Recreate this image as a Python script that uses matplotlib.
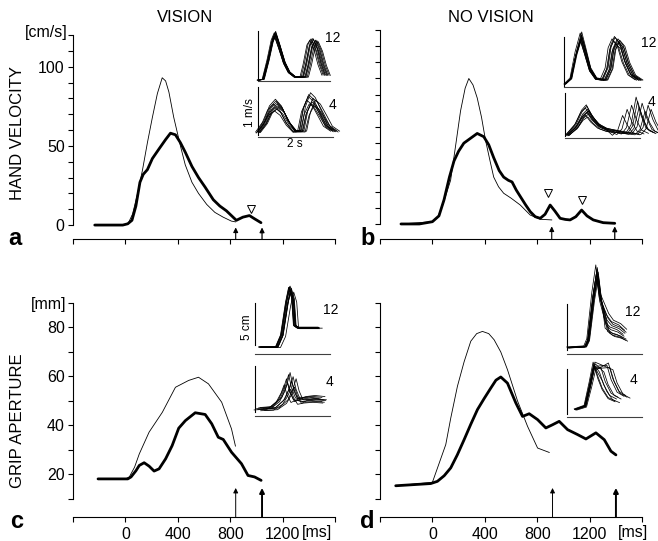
import numpy as np
import matplotlib
matplotlib.use('Agg')
import matplotlib.pyplot as plt

plt.rcParams['font.family'] = ['Liberation Sans', 'DejaVu Sans']

# ---- main traces: time [ms], value ----
a_thick_t = [-234, -20, 18, 50, 80, 111, 136, 168, 206, 256, 307, 344, 382, 420, 457, 508, 558, 608,
             671, 721, 771, 809, 847, 897, 947, 985, 1035]
a_thick_v = [0, 0, 0.8, 3, 12, 27, 32, 35, 42, 48, 54, 58, 57, 52, 46, 37, 30, 24,
             16, 12, 9, 6, 3, 5, 6, 4, 1.5]
a_thin_t = [-234, -20, 18, 55, 93, 131, 168, 206, 244, 281, 307, 332, 369, 420, 457, 508, 558, 621,
            683, 746, 809, 842]
a_thin_v = [0, 0, 0.5, 7, 20, 35, 52, 68, 83, 93, 91, 84, 68, 50, 38, 27, 20, 13,
            8, 5, 2.5, 2]
a_marks_t = [960]
a_marks_v = [10]
a_arrows = [842, 1043]

b_thick_t = [-240, -100, 0, 50, 89, 130, 165, 200, 240, 291, 342, 392, 430, 468, 510, 544, 580, 608,
             640, 671, 710, 747, 785, 823, 860, 899, 935, 975, 1015, 1051, 1095, 1139, 1180, 1228,
             1304, 1392]
b_thick_v = [0, 0, 1.4, 5, 15, 29, 39, 45, 50, 53, 56, 54, 49, 41, 33, 29, 27, 26,
             21, 17, 12, 7.6, 4.5, 3.5, 6, 11.7, 8, 3.5, 2.8, 2.5, 4.5, 8.6, 5, 2.5,
             0.8, 0.4]
b_thin_t = [-240, 0, 40, 80, 139, 180, 215, 250, 278, 310, 342, 375, 405, 440, 468, 505, 544, 600,
            671, 747, 823, 911]
b_thin_v = [0, 1.4, 4, 12, 27, 50, 70, 84, 90, 86, 78, 66, 52, 39, 29, 23, 19, 16,
            11.7, 5.5, 2.9, 2.5]
b_marks_t = [886, 1139]
b_marks_v = [19, 15]
b_arrows = [911, 1392]

c_thick_t = [-209, 0, 18, 43, 80, 106, 143, 181, 219, 257, 307, 357, 407, 458, 533, 609, 659, 709,
             747, 810, 886, 936, 986, 1036]
c_thick_v = [18.2, 18.2, 18.2, 19, 21.5, 23.7, 24.8, 23.4, 21.4, 22.3, 26.4, 31.8, 38.9, 42, 45.2,
             44.5, 40.7, 35.2, 34.3, 29.1, 24.4, 19.6, 19, 17.6]
c_thin_t = [-209, 0, 30, 70, 106, 181, 282, 382, 483, 558, 634, 735, 810, 840]
c_thin_v = [18.2, 18.2, 19, 23, 28.4, 37.3, 45.4, 55.6, 58.4, 59.7, 57, 49.5, 38.6, 31.6]
c_arrows = [842, 1043]

d_thick_t = [-280, -13, 38, 90, 140, 190, 242, 293, 344, 395, 446, 485, 522, 573, 637, 688, 739, 803,
             866, 917, 968, 1032, 1108, 1172, 1248, 1312, 1363, 1401]
d_thick_v = [15.4, 16.3, 17.2, 19.5, 22.7, 28, 34.2, 40.5, 46.5, 51, 55.3, 58.5, 59.8, 57.3, 49.2,
             43.7, 44.8, 42.4, 39, 40.3, 41.7, 38.3, 36.3, 34.5, 37, 34.2, 29.5, 28]
d_thin_t = [-280, 0, 102, 140, 191, 242, 293, 338, 382, 430, 471, 522, 573, 650, 726, 803, 892]
d_thin_v = [15.4, 16.8, 32.2, 43, 56, 66, 74.4, 77.5, 78.4, 77.5, 75, 70, 62.8, 50, 39.7, 30.8, 29]
d_arrows = [917, 1401]

# ---- inset traces: time [s], velocity [m/s] or aperture [cm] ----
ia_top_t = [0, 0.17, 0.33, 0.47, 0.57, 0.70, 0.87, 1.03, 1.23, 1.4, 1.5, 1.63, 1.73, 1.87, 2.0, 2.13]
ia_top_v = [0.02, 0.04, 0.47, 0.91, 1.07, 0.80, 0.42, 0.2, 0.09, 0.09, 0.36, 0.8, 0.91, 0.69, 0.36, 0.13]
ia_top_sh1 = [-0.03, 0.0, 0.02, -0.02, 0.03, 0.01, -0.01, 0.04, 0.0, 0.02]
ia_top_g1 = [1.0, 0.96, 1.03, 0.93, 0.98, 1.02, 0.91, 0.97, 1.0, 0.95]
ia_top_sh2 = [0.0, 0.04, 0.08, 0.12, 0.16, 0.2, 0.24, 0.28, 0.1, 0.18]
ia_top_g2 = [1.0, 1.03, 0.97, 1.02, 0.95, 1.0, 0.98, 0.96, 1.04, 0.99]

ia_bot_t = [0, 0.23, 0.4, 0.6, 0.8, 1.0, 1.23, 1.37, 1.5, 1.67, 1.83, 2.03, 2.23, 2.47]
ia_bot_v = [0.11, 0.33, 0.6, 0.73, 0.6, 0.33, 0.13, 0.13, 0.56, 0.82, 0.73, 0.49, 0.24, 0.13]
ia_bot_sh1 = [-0.08, -0.04, 0, 0.03, 0.06, -0.02, 0.08, 0.02, -0.06, 0.04]
ia_bot_g1 = [1.0, 0.9, 1.1, 0.85, 0.95, 1.15, 0.9, 1.05, 0.8, 1.0]
ia_bot_sh2 = [-0.05, 0, 0.04, 0.08, 0.12, 0.16, 0.2, 0.02, 0.1, 0.25]
ia_bot_g2 = [1.0, 1.1, 0.9, 1.2, 0.95, 1.05, 0.85, 1.15, 0.9, 1.0]

ib_top_t = [0.03, 0.23, 0.4, 0.57, 0.7, 0.87, 1.07, 1.3, 1.47, 1.57, 1.7, 1.87, 2.03, 2.23, 2.47]
ib_top_v = [0.07, 0.2, 0.78, 1.2, 0.87, 0.42, 0.2, 0.16, 0.42, 0.87, 1.07, 0.93, 0.56, 0.27, 0.16]
ib_top_sh1 = [-0.03, 0.0, 0.02, -0.02, 0.03, 0.01, -0.01, 0.02, 0.0, -0.02]
ib_top_g1 = [1.0, 0.9, 0.95, 0.85, 0.92, 0.97, 0.88, 1.02, 0.9, 0.86]
ib_top_sh2 = [-0.1, -0.05, 0, 0.03, 0.06, 0.1, 0.13, 0.16, -0.02, 0.08]
ib_top_g2 = [1.0, 0.95, 1.03, 0.9, 0.98, 1.0, 0.93, 0.97, 1.05, 0.92]

ib_bot_t = [0.07, 0.37, 0.57, 0.73, 0.9, 1.13, 1.4, 2.03, 2.2, 2.37, 2.53, 2.7, 2.93]
ib_bot_v = [0.07, 0.29, 0.56, 0.67, 0.47, 0.29, 0.2, 0.11, 0.29, 0.91, 0.51, 0.22, 0.13]
ib_bot_sh1 = [-0.05, 0.0, 0.04, -0.02, 0.06, 0.02, -0.04, 0.08, 0.0, 0.03]
ib_bot_g1 = [1.0, 0.85, 0.9, 1.1, 0.8, 0.95, 0.75, 0.9, 1.05, 0.7]
ib_bot_sh2 = [-0.45, -0.3, -0.15, 0.0, 0.1, 0.2, 0.3, 0.4, 0.5, 0.05]
ib_bot_g2 = [0.55, 0.7, 0.8, 1.0, 0.75, 0.85, 0.65, 0.8, 0.7, 0.9]

ic_top_t = [0.17, 0.73, 0.9, 1.07, 1.17, 1.27, 1.33, 1.43, 1.73, 2.1]
ic_top_v = [0.78, 0.78, 2.1, 5.8, 7.4, 6.2, 3.2, 2.9, 2.9, 2.9]
ic_top_sh1 = [-0.05, -0.03, 0, 0.02, 0.04, -0.02, 0.01, 0.12, 0.03, -0.04]
ic_top_g1 = [1, 0.97, 1.02, 0.95, 0.99, 1.01, 0.96, 0.93, 0.98, 1.0]
ic_top_sh2 = [-0.03, 0, 0.02, 0.03, 0.05, 0, 0.02, 0.14, 0.04, 0]
ic_top_g2 = [1, 0.98, 1.02, 1.0, 0.97, 1.03, 1.0, 0.99, 1.01, 0.98]

ic_bot_t = [0.17, 0.6, 0.9, 1.07, 1.17, 1.27, 1.4, 1.6, 1.9, 2.23]
ic_bot_v = [0.9, 1.0, 2.0, 3.4, 4.6, 3.1, 2.0, 1.8, 1.9, 1.8]
ic_bot_sh1 = [-0.2, -0.12, -0.05, 0.0, 0.05, 0.1, 0.15, -0.08, 0.02, 0.2]
ic_bot_g1 = [0.75, 0.9, 1.0, 1.05, 0.85, 0.95, 0.7, 0.8, 0.65, 0.9]
ic_bot_sh2 = [-0.1, 0, 0.05, 0, 0.08, 0.1, 0.12, -0.05, 0.03, 0.15]
ic_bot_g2 = [1.1, 0.9, 1.0, 1.15, 0.85, 1.2, 0.95, 1.05, 0.8, 1.0]

id_top_t = [0.03, 0.6, 0.7, 0.87, 1.0, 1.1, 1.27, 1.43, 1.67, 1.87]
id_top_v = [0.78, 0.9, 1.7, 6.9, 9.9, 6.9, 3.6, 3.0, 2.7, 2.2]
id_top_sh1 = [-0.04, -0.02, 0, 0.02, 0.04, 0.01, -0.01, 0.03, 0.0, 0.05]
id_top_g1 = [1.0, 0.9, 0.95, 0.88, 0.92, 0.97, 0.85, 0.9, 0.93, 0.87]
id_top_sh2 = [0, 0.05, 0.08, 0.1, 0.0, 0.12, 0.03, 0.1, 0.06, 0.15]
id_top_g2 = [1.0, 1.2, 0.7, 1.1, 0.8, 1.25, 0.9, 0.75, 1.05, 0.65]

id_bot_t = [0.27, 0.6, 0.77, 0.9, 1.03, 1.17, 1.37, 1.6]
id_bot_v = [0.9, 1.3, 3.9, 6.1, 5.0, 3.6, 2.4, 2.0]
id_bot_sh1 = [-0.03, 0, 0.02, 0.04, -0.02, 0.01, 0.03, 0, 0.05, -0.01]
id_bot_g1 = [1.0, 0.95, 0.9, 0.97, 0.92, 0.88, 1.0, 0.93, 0.85, 0.96]
id_bot_sh2 = [0, 0.05, 0.1, 0.2, 0.3, 0.4, 0.5, 0.15, 0.35, 0.0]
id_bot_g2 = [0.9, 1.0, 1.1, 1.0, 1.15, 1.1, 1.05, 0.8, 1.2, 0.85]

W, H = 658, 541
fig = plt.figure(figsize=(W / 100, H / 100), dpi=100)


def box(left, top, right, bottom):
	return [left / W, 1 - bottom / H, (right - left) / W, (bottom - top) / H]


def ftext(x, y, s, **kw):
	fig.text(x / W, 1 - y / H, s, **kw)


def panel(rect, ylim, ybounds, yticks, ylabels, xlabels):
	ax = fig.add_axes(rect)
	ax.patch.set_visible(False)
	ax.set_xlim(-400, 1600)
	ax.set_ylim(*ylim)
	for s in ['top', 'right']:
		ax.spines[s].set_visible(False)
	ax.spines['left'].set_bounds(*ybounds)
	ax.spines['bottom'].set_bounds(-400, 1600)
	for s in ['left', 'bottom']:
		ax.spines[s].set_linewidth(0.8)
	ax.set_yticks(yticks)
	ax.set_yticklabels([str(v) if v in ylabels else '' for v in yticks])
	xt = list(range(-400, 1601, 400))
	ax.set_xticks(xt)
	ax.set_xticklabels([str(v) if v in xlabels else '' for v in xt])
	ax.tick_params(direction='out', length=3.5, width=0.8, labelsize=11.5, pad=2.5)
	ax.tick_params(axis='x', pad=4)
	return ax


def curves(ax, tk, vk, tn, vn):
	ax.plot(tn, vn, color='k', lw=0.6, solid_joinstyle='round')
	ax.plot(tk, vk, color='k', lw=2.0, solid_joinstyle='round', solid_capstyle='round')


def arrows(ax, ts, base, tip, widths):
	for t, w in zip(ts, widths):
		ax.annotate('', xy=(t, tip), xytext=(t, base), annotation_clip=False,
			arrowprops=dict(arrowstyle='-|>', lw=w, color='k', mutation_scale=7,
				shrinkA=0, shrinkB=0))


def inset(left, base, w, h, scale, vgap):
	ax = fig.add_axes(box(left, base - h, left + w, base))
	ax.patch.set_visible(False)
	ax.set_xlim(0, w / 30)
	ax.set_ylim(0, h / scale)
	for s in ['top', 'right']:
		ax.spines[s].set_visible(False)
	ax.spines['left'].set_bounds(vgap / scale, h / scale)
	ax.spines['left'].set_linewidth(0.8)
	ax.spines['bottom'].set_linewidth(0.8)
	ax.spines['bottom'].set_color('0.25')
	ax.set_xticks([])
	ax.set_yticks([])
	return ax


def trials(ax, t, v, split, sh1, g1, sh2, g2):
	t = np.asarray(t, float)
	v = np.asarray(v, float)
	m = t < split
	for a1, b1, a2, b2 in zip(sh1, g1, sh2, g2):
		tt = np.where(m, t + a1, t + a2)
		vv = np.where(m, v * b1, v * b2)
		ax.plot(tt, vv, color='k', lw=0.55, clip_on=False, solid_joinstyle='round')


# ---- panel a ----
ax_a = panel(box(73, 35, 335, 239), (-8.8, 120), (0, 120), list(range(0, 121, 10)), [0, 50, 100], [])
curves(ax_a, a_thick_t, a_thick_v, a_thin_t, a_thin_v)
ax_a.plot(a_marks_t, a_marks_v, 'v', ms=6, mfc='white', mec='k', mew=0.7)
arrows(ax_a, a_arrows, -8.8, -1.5, [0.8, 0.9])

# ---- panel b ----
ax_b = panel(box(380, 30, 642, 239), (-9.3, 120), (0, 120), list(range(0, 121, 10)), [], [])
curves(ax_b, b_thick_t, b_thick_v, b_thin_t, b_thin_v)
ax_b.plot(b_marks_t, b_marks_v, 'v', ms=6, mfc='white', mec='k', mew=0.7, ls='none')
arrows(ax_b, b_arrows, -9.3, -1.5, [0.8, 0.9])

# ---- panel c ----
ax_c = panel(box(73, 303, 335, 517), (2.65, 90), (10, 90), list(range(10, 91, 10)), [20, 40, 60, 80],
	[0, 400, 800, 1200])
curves(ax_c, c_thick_t, c_thick_v, c_thin_t, c_thin_v)
arrows(ax_c, c_arrows, 2.65, 14.5, [0.7, 1.4])

# ---- panel d ----
ax_d = panel(box(380, 303, 642, 517), (2.65, 90), (10, 90), list(range(10, 91, 10)), [],
	[0, 400, 800, 1200])
curves(ax_d, d_thick_t, d_thick_v, d_thin_t, d_thin_v)
arrows(ax_d, d_arrows, 2.65, 14.5, [0.7, 1.4])

# ---- insets ----
ins = inset(258, 81, 72, 50, 45, 1)
trials(ins, ia_top_t, ia_top_v, 1.3, ia_top_sh1, ia_top_g1, ia_top_sh2, ia_top_g2)
ins = inset(258, 137, 75, 50, 45, 2)
trials(ins, ia_bot_t, ia_bot_v, 1.3, ia_bot_sh1, ia_bot_g1, ia_bot_sh2, ia_bot_g2)
ins = inset(564, 87, 76, 50, 45, 1)
trials(ins, ib_top_t, ib_top_v, 1.2, ib_top_sh1, ib_top_g1, ib_top_sh2, ib_top_g2)
ins = inset(565, 138, 75, 45, 45, 2)
trials(ins, ib_bot_t, ib_bot_v, 1.7, ib_bot_sh1, ib_bot_g1, ib_bot_sh2, ib_bot_g2)
ins = inset(255, 354, 75, 51, 9, 9)
trials(ins, ic_top_t, ic_top_v, 1.38, ic_top_sh1, ic_top_g1, ic_top_sh2, ic_top_g2)
ins = inset(255, 416, 75, 50, 9, 4)
trials(ins, ic_bot_t, ic_bot_v, 1.5, ic_bot_sh1, ic_bot_g1, ic_bot_sh2, ic_bot_g2)
ins = inset(567, 354, 75, 50, 9, 4)
trials(ins, id_top_t, id_top_v, 1.2, id_top_sh1, id_top_g1, id_top_sh2, id_top_g2)
ins = inset(567, 417, 75, 48, 9, 3)
trials(ins, id_bot_t, id_bot_v, 1.0, id_bot_sh1, id_bot_g1, id_bot_sh2, id_bot_g2)

# ---- texts ----
ftext(185, 22, 'VISION', ha='center', va='baseline', fontsize=12)
ftext(491, 22, 'NO VISION', ha='center', va='baseline', fontsize=12)
ftext(18, 133, 'HAND VELOCITY', ha='center', va='center', rotation=90, fontsize=12)
ftext(18, 421, 'GRIP APERTURE', ha='center', va='center', rotation=90, fontsize=12)
ftext(68, 32, '[cm/s]', ha='right', va='center', fontsize=11.5)
ftext(66, 304, '[mm]', ha='right', va='center', fontsize=11.5)
ftext(302, 537, '[ms]', ha='left', va='baseline', fontsize=11.5)
ftext(618, 537, '[ms]', ha='left', va='baseline', fontsize=11.5)
for x, y, s in [(15, 245, 'a'), (368, 245, 'b'), (17, 528, 'c'), (367, 528, 'd')]:
	ftext(x, y, s, ha='center', va='baseline', fontsize=17, fontweight='bold')
for x, y, s in [(333, 38, '12'), (333, 105, '4'), (649, 43, '12'), (652, 102, '4'),
		(331, 310, '12'), (330, 382, '4'), (633, 312, '12'), (633, 380, '4')]:
	ftext(x, y, s, ha='center', va='center', fontsize=10)
ftext(250, 113, '1 m/s', ha='center', va='center', rotation=90, fontsize=8.5)
ftext(295, 144, '2 s', ha='center', va='center', fontsize=8.5)
ftext(247, 327, '5 cm', ha='center', va='center', rotation=90, fontsize=8.5)

fig.savefig('out.png', dpi=100)
